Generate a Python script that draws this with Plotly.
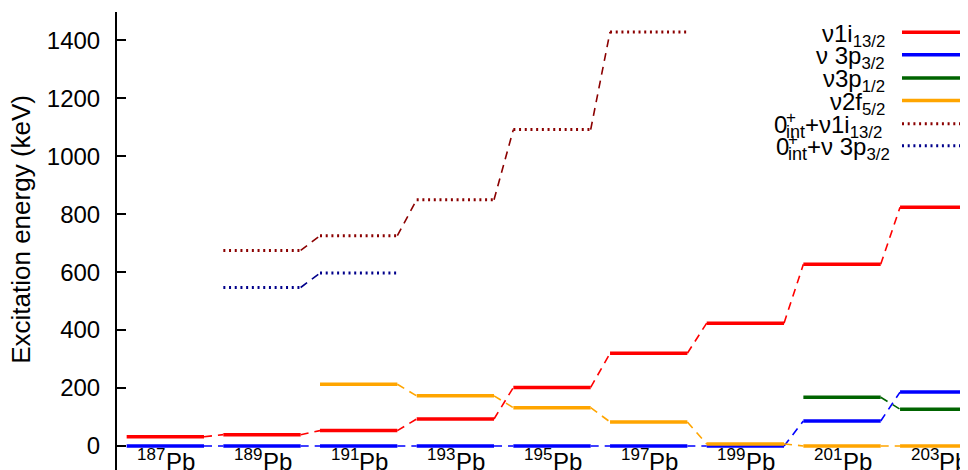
import plotly.graph_objects as go

# ---------------- data (keV) ----------------
nuclei = ["187", "189", "191", "193", "195", "197", "199", "201", "203"]
nu_i13 = [32, 39, 53, 93, 202, 320, 424, 627, 824]
nu_p32 = [0, 0, 0, 0, 0, 0, 0, 86, 186]
nu_p12 = [None, None, None, None, None, None, None, 168, 127]
nu_f52 = [None, None, 213, 173, 132, 83, 7, 0, 0]
int_i13 = [None, 675, 726, 850, 1092, 1429, None, None, None]
int_p32 = [None, 547, 597, None, None, None, None, None, None]

# legend texts: (leading part or None, tail part)
legend_labels = [
    (None, "ν1i<sub>13/2</sub>"),
    (None, "ν 3p<sub>3/2</sub>"),
    (None, "ν3p<sub>1/2</sub>"),
    (None, "ν2f<sub>5/2</sub>"),
    ("0", "+ν1i<sub>13/2</sub>"),
    ("0", "+ν 3p<sub>3/2</sub>"),
]
ytick_vals = [0, 200, 400, 600, 800, 1000, 1200, 1400]

FONT = "Liberation Sans, Arial, Helvetica, sans-serif"
W = 0.8  # level length in units of nucleus spacing

series = [
    (nu_i13, "#ff0000", "solid", 3.5),
    (nu_p32, "#0000ff", "solid", 3.5),
    (nu_p12, "#006400", "solid", 3.5),
    (nu_f52, "#ffa500", "solid", 3.5),
    (int_i13, "#8b0000", "2px,3.7px", 3),
    (int_p32, "#00008b", "2px,3.7px", 3),
]


def level_xy(vals):
    xs, ys = [], []
    for i, v in enumerate(vals):
        if v is not None:
            xs += [i, i + W, None]
            ys += [v, v, None]
    return xs, ys


def conn_xy(vals):
    xs, ys = [], []
    for i in range(len(vals) - 1):
        if vals[i] is not None and vals[i + 1] is not None:
            xs += [i + W, i + 1, None]
            ys += [vals[i], vals[i + 1], None]
    return xs, ys


fig = go.Figure()
for vals, color, dash, lw in series:
    cx, cy = conn_xy(vals)
    fig.add_trace(go.Scatter(x=cx, y=cy, mode="lines", showlegend=False, hoverinfo="skip",
                             line=dict(color=color, width=1.6, dash="8px,6px")))
    lx, ly = level_xy(vals)
    fig.add_trace(go.Scatter(x=lx, y=ly, mode="lines", showlegend=False,
                             line=dict(color=color, width=lw, dash=dash)))

# page geometry: the browser's default body margin (8px) offsets the figure
OFF = 8
FIG_W, FIG_H = 968 - OFF, 470 - OFF
L, T = 117 - OFF, 12.4 - OFF
PW, PH = FIG_W - L, FIG_H - T


def px_x(x):  # reference-window pixel -> paper
    return (x - OFF - L) / PW


def px_y(y):
    return (FIG_H - (y - OFF)) / PH


def txt(x, y, text, size, xanchor="center", xref="paper", xshift=0, **kw):
    return dict(x=x, y=y, xref=xref, yref="paper", text=text, showarrow=False,
                xanchor=xanchor, yanchor="middle", xshift=xshift,
                font=dict(family=FONT, size=size, color="black"), **kw)


annotations = []
shapes = []
# nucleus labels: mass number as superscript, then "Pb"
for i, n in enumerate(nuclei):
    annotations.append(txt(i + W / 2, px_y(455), n, 17, xanchor="right", xref="x", xshift=2))
    annotations.append(txt(i + W / 2, px_y(461.8), "Pb", 24, xanchor="left", xref="x", xshift=-1.5))

# custom legend (text left of the sample)
row_y = [32.7, 55, 78.3, 100.7, 124, 146]
lead_x = {4: 772, 5: 774}
for k, ((lead, tail), (vals, color, dash, lw)) in enumerate(zip(legend_labels, series)):
    if lead is None:
        annotations.append(txt(px_x(887), px_y(row_y[k] + 3), tail, 24, xanchor="right"))
    else:
        x0 = lead_x[k]
        base = row_y[k] + 9.3          # baseline of the main text
        annotations.append(txt(px_x(x0), px_y(base - 8.6), lead, 24, xanchor="left"))
        annotations.append(txt(px_x(x0 + 12), px_y(base - 1.3), "int", 18, xanchor="left"))
        annotations.append(txt(px_x(x0 + 12), px_y(base - 15.5), "+", 17, xanchor="left"))
        annotations.append(txt(px_x(x0 + 31), px_y(row_y[k] + 3), tail, 24, xanchor="left"))
    shapes.append(dict(type="line", xref="paper", yref="paper",
                       x0=px_x(902), x1=px_x(961), y0=px_y(row_y[k]), y1=px_y(row_y[k]),
                       line=dict(color=color, width=lw, dash=dash)))

# y-axis title
annotations.append(txt(px_x(21.5), px_y(229.5), "Excitation energy (keV)", 26, textangle=-90))

fig.update_layout(
    width=FIG_W, height=FIG_H,
    margin=dict(l=L, r=0, t=T, b=0),
    paper_bgcolor="white", plot_bgcolor="white",
    showlegend=False,
    annotations=annotations, shapes=shapes,
    xaxis=dict(range=[-0.1, 8.703], visible=False, showgrid=False, zeroline=False),
    yaxis=dict(range=[-83, 1498], tickvals=ytick_vals, ticks="inside", ticklen=9,
               tickwidth=1.5, tickcolor="black", showline=True, linewidth=2, linecolor="black",
               showgrid=False, zeroline=False, ticklabelstandoff=10,
               tickfont=dict(family=FONT, size=24, color="black")),
)

fig.write_html("out.html")
